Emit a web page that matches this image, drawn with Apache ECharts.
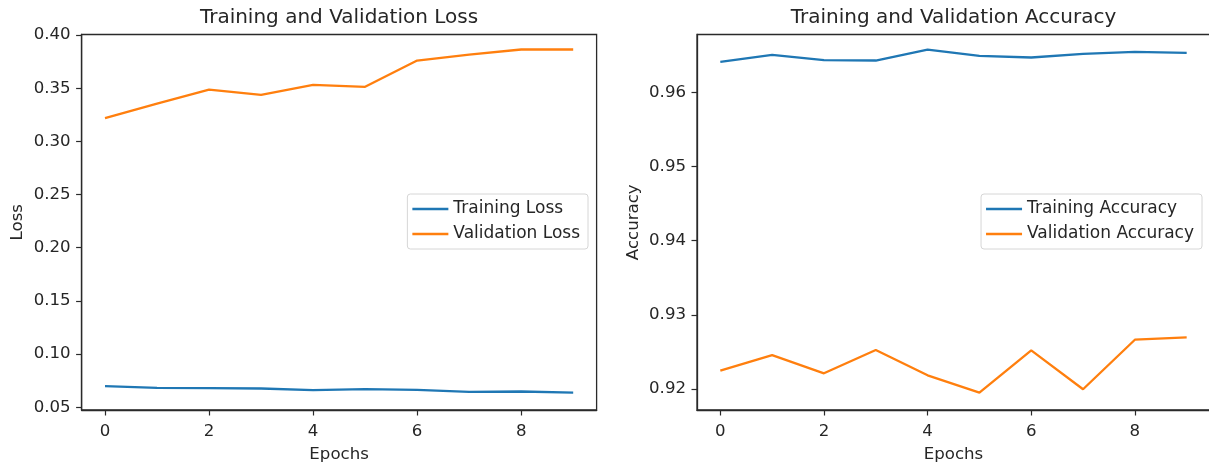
<!DOCTYPE html>
<html>
<head>
<meta charset="utf-8">
<script src="https://cdn.jsdelivr.net/npm/echarts@6/dist/echarts.min.js"></script>
<style>
html,body{margin:0;padding:0;background:#fff;}
#c{width:1209px;height:465px;}
</style>
</head>
<body>
<div id="c"></div>
<script>
const epochs = [0,1,2,3,4,5,6,7,8,9];
const trainLoss = [0.0698,0.0682,0.0679,0.0676,0.0660,0.0670,0.0664,0.0645,0.0648,0.0638];
const valLoss = [0.3218,0.3355,0.3487,0.3437,0.3532,0.3513,0.3760,0.3816,0.3864,0.3864];
const trainAcc = [0.96413,0.96507,0.96435,0.96430,0.96578,0.96493,0.96471,0.96520,0.96547,0.96534];
const valAcc = [0.92247,0.92457,0.92211,0.92525,0.92184,0.91951,0.92520,0.91996,0.92664,0.92695];
const epochTicks = [0,2,4,6,8];
const lossTicks = [0.05,0.10,0.15,0.20,0.25,0.30,0.35,0.40];
const accTicks = [0.92,0.93,0.94,0.95,0.96];

const FONT = "DejaVu Sans";
const TXT = '#262626';
const AX = '#2a2a2a';
const BLUE = "#1f77b4", ORANGE = "#ff7f0e";
const FS = 16.6;
const pair = (ys) => epochs.map((e,i)=>[e, ys[i]]);

function xAx(gi){
  return {
    gridIndex: gi, type:'value', min:-0.45, max:9.45,
    name:'Epochs', nameLocation:'middle', nameGap:36,
    nameTextStyle:{fontFamily:FONT,fontSize:FS,color:TXT},
    splitLine:{show:false},
    axisLine:{show:true,onZero:false,lineStyle:{color:AX,width:1.3}},
    axisTick:{show:true,customValues:epochTicks,length:5.5,lineStyle:{color:AX,width:1.2}},
    axisLabel:{customValues:epochTicks,fontFamily:FONT,fontSize:FS,color:TXT,margin:13}
  };
}
function yAx(gi,min,max,ticks,name,gap){
  return {
    gridIndex: gi, type:'value', min:min, max:max,
    name:name, nameLocation:'middle', nameGap:gap, nameRotate:90,
    nameTextStyle:{fontFamily:FONT,fontSize:FS,color:TXT},
    splitLine:{show:false},
    axisLine:{show:true,onZero:false,lineStyle:{color:AX,width:1.3}},
    axisTick:{show:true,customValues:ticks,length:5.5,lineStyle:{color:AX,width:1.2}},
    axisLabel:{customValues:ticks,fontFamily:FONT,fontSize:FS,color:TXT,margin:11,
      formatter:(v)=>v.toFixed(2)}
  };
}
function ser(name,gi,data,color){
  return {name:name,type:'line',xAxisIndex:gi,yAxisIndex:gi,data:pair(data),
    symbol:'none',lineStyle:{color:color,width:2.3},itemStyle:{color:color},animation:false};
}
const legendCommon = {
  orient:'vertical', icon:'rect', itemWidth:36, itemHeight:2.3, itemGap:6, itemTextGap:13,
  textStyle:{fontFamily:FONT,fontSize:17,color:TXT,lineHeight:19},
  backgroundColor:'rgba(255,255,255,0.8)', borderColor:'#d6d6d6', borderWidth:1, borderRadius:3,
  padding:[5.5,8,5.5,5]
};

const chart = echarts.init(document.getElementById('c'));
chart.setOption({
  animation:false,
  backgroundColor:'#fff',
  title:[
    {text:'Training and Validation Loss',left:339,top:8,padding:0,textAlign:'center',
     textStyle:{fontFamily:FONT,fontSize:20,fontWeight:'normal',color:TXT}},
    {text:'Training and Validation Accuracy',left:953.5,top:8,padding:0,textAlign:'center',
     textStyle:{fontFamily:FONT,fontSize:20,fontWeight:'normal',color:TXT}}
  ],
  grid:[
    {left:81.6,top:34.5,width:515,height:375.5,outerBoundsMode:'none',containLabel:false,show:true,borderColor:AX,borderWidth:1.3,backgroundColor:'transparent'},
    {left:697,top:34.5,width:513,height:375.5,outerBoundsMode:'none',containLabel:false,show:true,borderColor:AX,borderWidth:1.3,backgroundColor:'transparent'}
  ],
  xAxis:[xAx(0),xAx(1)],
  yAxis:[yAx(0,0.0474,0.4005,lossTicks,'Loss',55), yAx(1,0.91716,0.96781,accTicks,'Accuracy',55)],
  legend:[
    Object.assign({},legendCommon,{right:621,top:194,data:['Training Loss','Validation Loss']}),
    Object.assign({},legendCommon,{right:7,top:194,data:['Training Accuracy','Validation Accuracy']})
  ],
  series:[
    ser('Training Loss',0,trainLoss,BLUE),
    ser('Validation Loss',0,valLoss,ORANGE),
    ser('Training Accuracy',1,trainAcc,BLUE),
    ser('Validation Accuracy',1,valAcc,ORANGE)
  ]
});
</script>
</body>
</html>
